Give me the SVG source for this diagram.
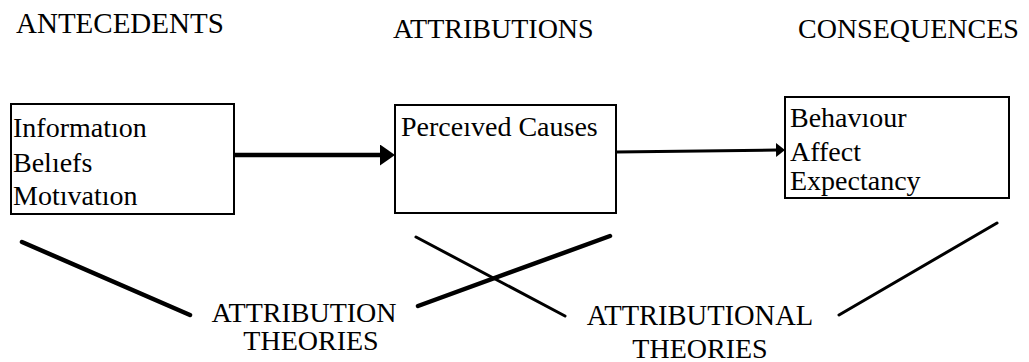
<svg xmlns="http://www.w3.org/2000/svg" width="1029" height="362" viewBox="0 0 1029 362">
<style>
  text { font-family: "Liberation Serif", "Times New Roman", serif; font-size: 28px; fill: #000; }
  .mid { text-anchor: middle; }
  .box { fill: #fff; stroke: #000; stroke-width: 2; }
  .thick { stroke: #000; stroke-width: 4.5; stroke-linecap: round; fill: none; }
  .thin { stroke: #000; stroke-width: 3; stroke-linecap: round; fill: none; }
</style>
<defs>
  <marker id="headBig" markerUnits="userSpaceOnUse" markerWidth="15" markerHeight="21" viewBox="0 0 15 21" refX="3" refY="10.5" orient="auto">
    <path d="M0,0 L15,10.5 L0,21 Z" fill="#000"/>
  </marker>
  <marker id="headSmall" markerUnits="userSpaceOnUse" markerWidth="9" markerHeight="14" viewBox="0 0 9 14" refX="1" refY="7" orient="auto">
    <path d="M0,0 L9,7 L0,14 Z" fill="#000"/>
  </marker>
</defs>
<rect width="1029" height="362" fill="#fff"/>

<g id="headings">
  <text x="16" y="33" style="font-size:29px">ANTECEDENTS</text>
  <text x="393" y="38">ATTRIBUTIONS</text>
  <text x="798" y="38">CONSEQUENCES</text>
</g>

<g id="antecedents">
  <rect class="box" x="11" y="104" width="223" height="110"/>
  <text x="13" y="137">Informatıon</text>
  <text x="13" y="172">Belıefs</text>
  <text x="13" y="205">Motıvatıon</text>
</g>

<g id="attributions">
  <rect class="box" x="395" y="105" width="221" height="108"/>
  <text x="401" y="136">Perceıved Causes</text>
</g>

<g id="consequences">
  <rect class="box" x="785" y="97" width="224" height="101"/>
  <text x="790" y="127">Behavıour</text>
  <text x="790" y="161">Affect</text>
  <text x="790" y="190">Expectancy</text>
</g>

<g id="attribution-theories">
  <text class="mid" x="304" y="322">ATTRIBUTION</text>
  <text class="mid" x="311" y="350">THEORIES</text>
</g>

<g id="attributional-theories">
  <text class="mid" x="700" y="325" style="font-size:28.5px">ATTRIBUTIONAL</text>
  <text class="mid" x="700" y="358">THEORIES</text>
</g>

<g id="connectors">
  <line x1="234" y1="155" x2="383" y2="155" stroke="#000" stroke-width="4.5" marker-end="url(#headBig)"/>
  <line x1="616" y1="152" x2="777" y2="150" stroke="#000" stroke-width="3" marker-end="url(#headSmall)"/>
  <line class="thick" x1="22" y1="242" x2="190" y2="315"/>
  <line class="thick" x1="418" y1="306" x2="610" y2="236"/>
  <line class="thin" x1="416" y1="237" x2="565" y2="316"/>
  <line class="thin" x1="839" y1="315" x2="997" y2="223"/>
</g>
</svg>
